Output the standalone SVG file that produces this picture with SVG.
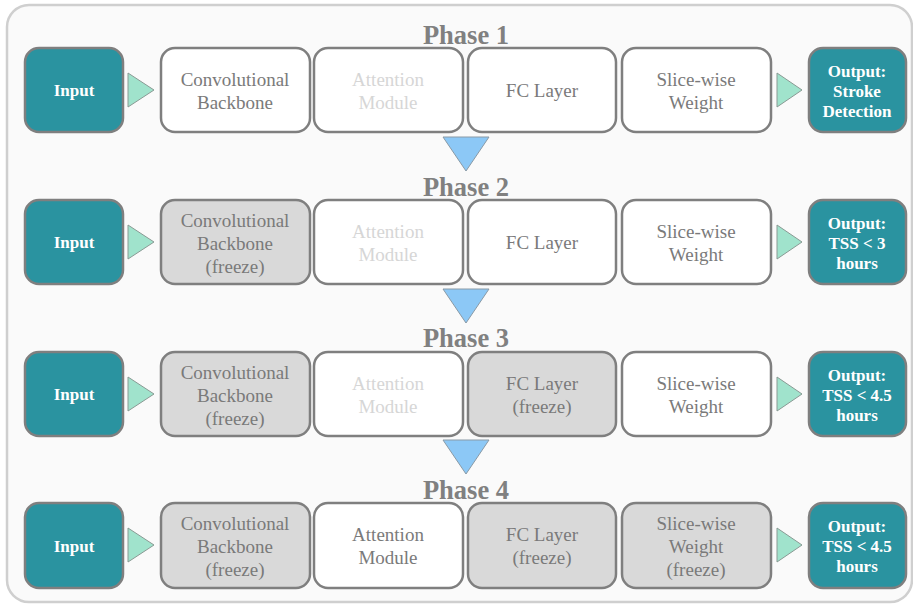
<svg xmlns="http://www.w3.org/2000/svg" width="913" height="606" viewBox="0 0 913 606">
<style>
.frame{fill:#fafafa;stroke:#cfcfcf;stroke-width:2.5}
.teal{fill:#2a93a0;stroke:#7f7f7f;stroke-width:2.5}
.w{fill:#ffffff;stroke:#7f7f7f;stroke-width:2.5}
.g{fill:#d9d9d9;stroke:#7f7f7f;stroke-width:2.5}
text{font-family:"Liberation Serif","Times New Roman",serif;text-anchor:middle}
.t{font-size:19px;fill:#7a7a7a}
.faint{fill:#d6d6d6}
.b{font-size:17px;font-weight:bold;fill:#ffffff}
.ph{font-size:26.5px;font-weight:bold;fill:#808080}
.ra{fill:#a0e3cc;stroke:#8a9a94;stroke-width:1}
.da{fill:#8cc8f6;stroke:#8a9aa6;stroke-width:1}
</style>
<rect class="frame" x="7" y="5" width="905" height="597" rx="22"/>
<g id="labels">
<text class="ph" x="466" y="44">Phase 1</text>
<text class="ph" x="466" y="196">Phase 2</text>
<text class="ph" x="466" y="347">Phase 3</text>
<text class="ph" x="466" y="499">Phase 4</text>
</g>
<g id="connectors">
<polygon class="ra" points="128,73 154,90 128,107"/>
<polygon class="ra" points="777,73 802,90 777,107"/>
<polygon class="ra" points="128,225 154,242 128,259"/>
<polygon class="ra" points="777,225 802,242 777,259"/>
<polygon class="ra" points="128,377 154,394 128,411"/>
<polygon class="ra" points="777,377 802,394 777,411"/>
<polygon class="ra" points="128,528 154,545 128,562"/>
<polygon class="ra" points="777,528 802,545 777,562"/>
<polygon class="da" points="443,137 489,137 466,171"/>
<polygon class="da" points="443,289 489,289 466,323"/>
<polygon class="da" points="443,440 489,440 466,474"/>
</g>
<!-- Phase 1 -->
<g id="p1-input"><rect class="teal" x="25" y="48" width="98" height="84" rx="14"/><text class="b" x="74" y="96">Input</text></g>
<g id="p1-conv"><rect class="w" x="161" y="48" width="149" height="84" rx="14"/><text class="t" x="235" y="86">Convolutional</text><text class="t" x="235" y="109">Backbone</text></g>
<g id="p1-att"><rect class="w" x="314" y="48" width="149" height="84" rx="14"/><text class="t faint" x="388" y="86">Attention</text><text class="t faint" x="388" y="109">Module</text></g>
<g id="p1-fc"><rect class="w" x="468" y="48" width="148" height="84" rx="14"/><text class="t" x="542" y="97">FC Layer</text></g>
<g id="p1-slice"><rect class="w" x="622" y="48" width="149" height="84" rx="14"/><text class="t" x="696" y="86">Slice-wise</text><text class="t" x="696" y="109">Weight</text></g>
<g id="p1-out"><rect class="teal" x="809" y="48" width="97" height="84" rx="14"/><text class="b" x="857" y="77">Output:</text><text class="b" x="857" y="97">Stroke</text><text class="b" x="857" y="117">Detection</text></g>
<!-- Phase 2 -->
<g id="p2-input"><rect class="teal" x="25" y="200" width="98" height="84" rx="14"/><text class="b" x="74" y="248">Input</text></g>
<g id="p2-conv"><rect class="g" x="161" y="200" width="149" height="84" rx="14"/><text class="t" x="235" y="227">Convolutional</text><text class="t" x="235" y="250">Backbone</text><text class="t" x="235" y="273">(freeze)</text></g>
<g id="p2-att"><rect class="w" x="314" y="200" width="149" height="84" rx="14"/><text class="t faint" x="388" y="238">Attention</text><text class="t faint" x="388" y="261">Module</text></g>
<g id="p2-fc"><rect class="w" x="468" y="200" width="148" height="84" rx="14"/><text class="t" x="542" y="249">FC Layer</text></g>
<g id="p2-slice"><rect class="w" x="622" y="200" width="149" height="84" rx="14"/><text class="t" x="696" y="238">Slice-wise</text><text class="t" x="696" y="261">Weight</text></g>
<g id="p2-out"><rect class="teal" x="809" y="200" width="97" height="84" rx="14"/><text class="b" x="857" y="229">Output:</text><text class="b" x="857" y="249">TSS &lt; 3</text><text class="b" x="857" y="269">hours</text></g>
<!-- Phase 3 -->
<g id="p3-input"><rect class="teal" x="25" y="352" width="98" height="84" rx="14"/><text class="b" x="74" y="400">Input</text></g>
<g id="p3-conv"><rect class="g" x="161" y="352" width="149" height="84" rx="14"/><text class="t" x="235" y="379">Convolutional</text><text class="t" x="235" y="402">Backbone</text><text class="t" x="235" y="425">(freeze)</text></g>
<g id="p3-att"><rect class="w" x="314" y="352" width="149" height="84" rx="14"/><text class="t faint" x="388" y="390">Attention</text><text class="t faint" x="388" y="413">Module</text></g>
<g id="p3-fc"><rect class="g" x="468" y="352" width="148" height="84" rx="14"/><text class="t" x="542" y="390">FC Layer</text><text class="t" x="542" y="413">(freeze)</text></g>
<g id="p3-slice"><rect class="w" x="622" y="352" width="149" height="84" rx="14"/><text class="t" x="696" y="390">Slice-wise</text><text class="t" x="696" y="413">Weight</text></g>
<g id="p3-out"><rect class="teal" x="809" y="352" width="97" height="84" rx="14"/><text class="b" x="857" y="381">Output:</text><text class="b" x="857" y="401">TSS &lt; 4.5</text><text class="b" x="857" y="421">hours</text></g>
<!-- Phase 4 -->
<g id="p4-input"><rect class="teal" x="25" y="503" width="98" height="85" rx="14"/><text class="b" x="74" y="552">Input</text></g>
<g id="p4-conv"><rect class="g" x="161" y="503" width="149" height="85" rx="14"/><text class="t" x="235" y="530">Convolutional</text><text class="t" x="235" y="553">Backbone</text><text class="t" x="235" y="576">(freeze)</text></g>
<g id="p4-att"><rect class="w" x="314" y="503" width="149" height="85" rx="14"/><text class="t" x="388" y="541">Attention</text><text class="t" x="388" y="564">Module</text></g>
<g id="p4-fc"><rect class="g" x="468" y="503" width="148" height="85" rx="14"/><text class="t" x="542" y="541">FC Layer</text><text class="t" x="542" y="564">(freeze)</text></g>
<g id="p4-slice"><rect class="g" x="622" y="503" width="149" height="85" rx="14"/><text class="t" x="696" y="530">Slice-wise</text><text class="t" x="696" y="553">Weight</text><text class="t" x="696" y="576">(freeze)</text></g>
<g id="p4-out"><rect class="teal" x="809" y="503" width="97" height="85" rx="14"/><text class="b" x="857" y="532">Output:</text><text class="b" x="857" y="552">TSS &lt; 4.5</text><text class="b" x="857" y="572">hours</text></g>
</svg>
